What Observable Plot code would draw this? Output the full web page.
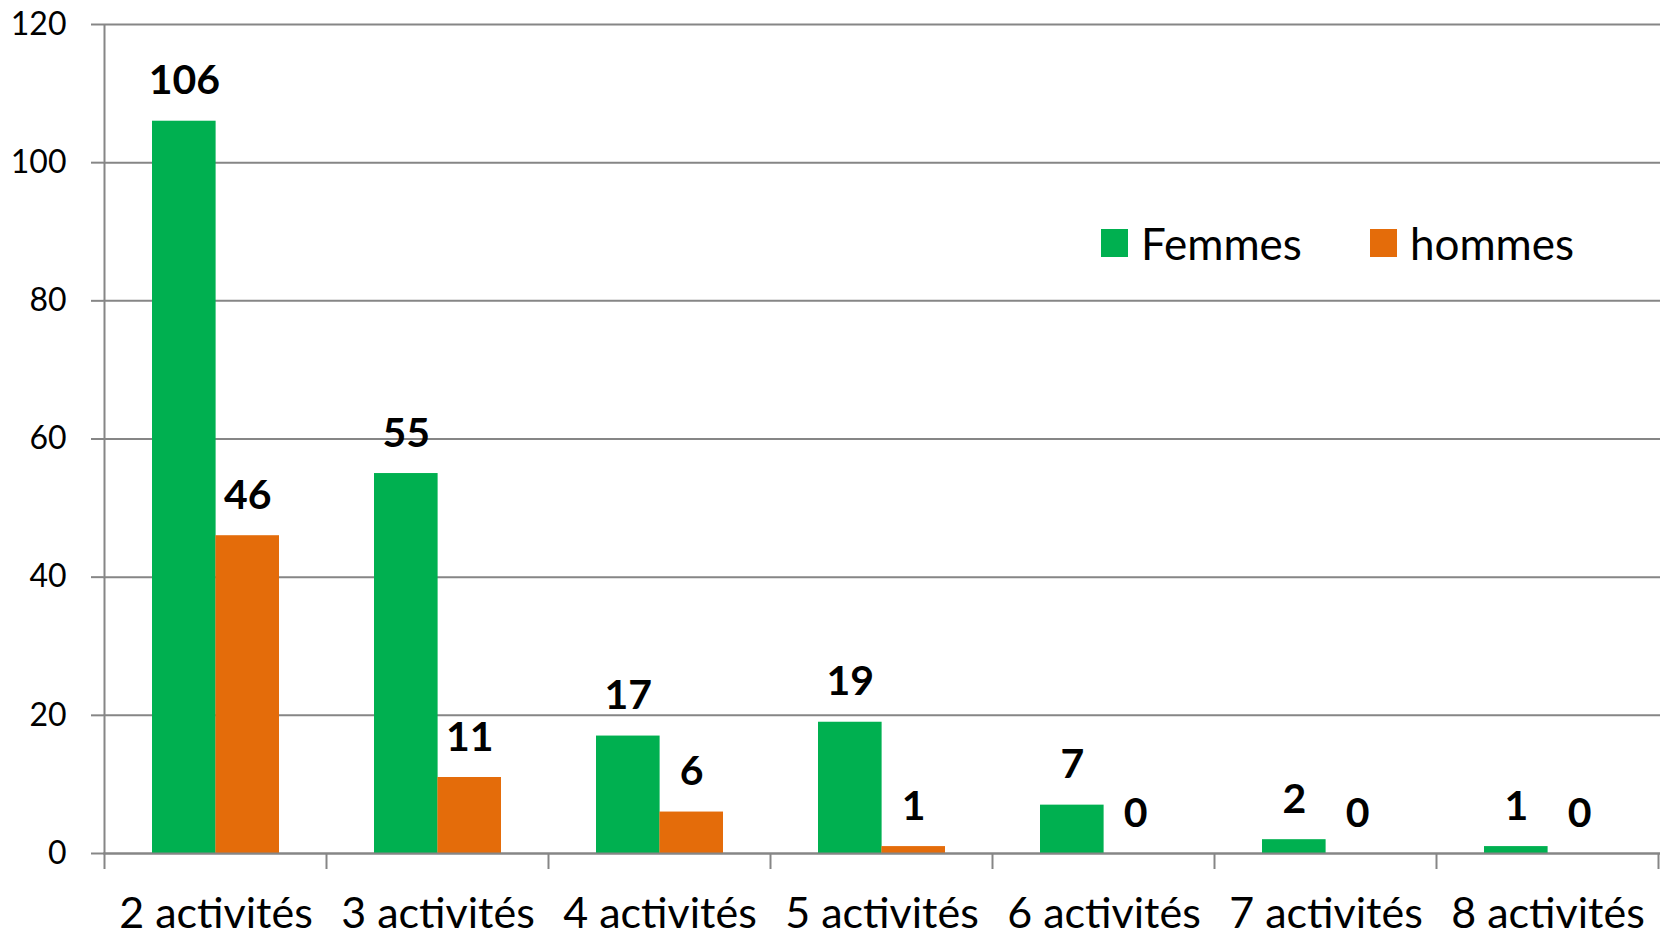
<!DOCTYPE html>
<html>
<head>
<meta charset="utf-8">
<script src="https://cdn.jsdelivr.net/npm/d3@7"></script>
<script src="https://cdn.jsdelivr.net/npm/@observablehq/plot@0.6"></script>
<style>
  html, body { margin: 0; padding: 0; background: #fff; }
  #wrap { position: relative; width: 1662px; height: 936px; overflow: hidden; }
  #legend { position: absolute; left: 1101px; top: 216px; display: flex; align-items: center;
            font-family: Lato, sans-serif; font-size: 44px; line-height: 54px; color: #000; }
  #legend .item { display: flex; align-items: center; margin-right: 68px; }
  #legend .sw { width: 27px; height: 28px; margin-right: 13px; }
</style>
</head>
<body>
<div id="wrap"><div id="chart"></div><div id="legend"></div></div>
<script>
const categories = ["2 activités", "3 activités", "4 activités", "5 activités", "6 activités", "7 activités", "8 activités"];
const femmes = [106, 55, 17, 19, 7, 2, 1];
const hommes = [46, 11, 6, 1, 0, 0, 0];
const series = ["Femmes", "hommes"];
const colors = ["#00B050", "#E46C0A"];
const yTicks = [0, 20, 40, 60, 80, 100, 120];

const rowsF = categories.map((c, i) => ({cat: c, series: series[0], value: femmes[i]}));
const rowsH = categories.map((c, i) => ({cat: c, series: series[1], value: hommes[i]}));

const W = 1662, H = 936, mL = 103, mR = 2, mT = 24, mB = 83;
const padIn = 0.43, padOut = 0.215;
const step = (W - mL - mR) / (categories.length - padIn + 2 * padOut);
const bw = step * (1 - padIn);
const grey = "#868686";

function boundaries(index, scales) {
  const {x, y} = scales;
  const s = x(categories[1]) - x(categories[0]);
  const gap = (s - x.bandwidth()) / 2;
  const xs = categories.map(c => x(c) - gap);
  xs.push(x(categories[categories.length - 1]) + x.bandwidth() + gap);
  const g = d3.create("svg:g").attr("stroke", grey).attr("stroke-width", 2);
  xs.forEach((xv, i) => {
    g.append("line")
      .attr("x1", xv).attr("x2", xv)
      .attr("y1", i === 0 ? y(yTicks[yTicks.length - 1]) : y(0))
      .attr("y2", y(0) + 16);
  });
  return g.node();
}

const chart = Plot.plot({
  width: W, height: H,
  marginLeft: mL, marginRight: mR, marginTop: mT, marginBottom: mB,
  style: {fontFamily: "Lato, sans-serif", color: "#000", background: "#fff"},
  x: {type: "band", domain: categories, paddingInner: padIn, paddingOuter: padOut, align: 0.5, label: null},
  y: {domain: [0, 120], label: null},
  color: {domain: series, range: colors},
  marks: [
    Plot.gridY(yTicks, {stroke: grey, strokeOpacity: 1, strokeWidth: 2}),
    Plot.axisY(yTicks, {tickSize: 12, tickPadding: 25, fontSize: 32, stroke: grey, strokeWidth: 2, label: null}),
    Plot.barY(rowsF, {x: "cat", y: "value", fill: "series", insetRight: bw / 2}),
    Plot.barY(rowsH, {x: "cat", y: "value", fill: "series", insetLeft: bw / 2}),
    Plot.ruleY([0], {stroke: grey, strokeWidth: 2}),
    boundaries,
    Plot.axisX({tickSize: 0, tickPadding: 44, fontSize: 43, label: null}),
    Plot.text(rowsF, {x: "cat", y: "value", text: d => String(d.value), dx: -bw / 4, dy: -40, fontSize: 41, fontWeight: "bold", fill: "#000"}),
    Plot.text(rowsH, {x: "cat", y: "value", text: d => String(d.value), dx: bw / 4, dy: -40, fontSize: 41, fontWeight: "bold", fill: "#000"})
  ]
});
document.getElementById("chart").appendChild(chart);

const legend = document.getElementById("legend");
series.forEach((s, i) => {
  const item = document.createElement("div");
  item.className = "item";
  const sw = document.createElement("div");
  sw.className = "sw";
  sw.style.background = colors[i];
  const t = document.createElement("span");
  t.textContent = s;
  item.appendChild(sw);
  item.appendChild(t);
  legend.appendChild(item);
});
</script>
</body>
</html>
